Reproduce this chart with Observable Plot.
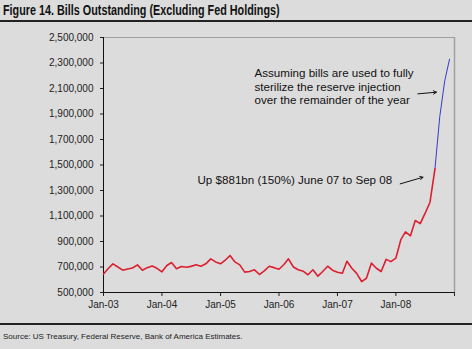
<!DOCTYPE html>
<html>
<head>
<meta charset="utf-8">
<script src="https://cdn.jsdelivr.net/npm/d3@7"></script>
<script src="https://cdn.jsdelivr.net/npm/@observablehq/plot@0.6"></script>
<style>
  html, body { margin: 0; padding: 0; background: #dcdcdc; }
  #wrap { width: 472px; height: 349px; background: #dcdcdc; position: relative; overflow: hidden; }
  #title { position: absolute; left: 3px; top: 1px; font-family: "Liberation Sans", Arial, sans-serif; font-weight: bold; font-size: 15px; color: #111; white-space: nowrap; transform: scaleX(0.72); transform-origin: 0 50%; }
  #rule1 { position: absolute; left: 0; width: 472px; top: 20px; height: 1.5px; background: #222; }
  #rule2 { position: absolute; left: 0; width: 472px; top: 323px; height: 1.5px; background: #222; }
  #chart { position: absolute; left: 0; top: 22px; }
  #source { position: absolute; left: 3px; top: 332px; font-family: "Liberation Sans", Arial, sans-serif; font-size: 8px; color: #222; white-space: nowrap; }
</style>
</head>
<body>
<div id="wrap">
  <div id="title">Figure 14. Bills Outstanding (Excluding Fed Holdings)</div>
  <div id="rule1"></div>
  <div id="chart"></div>
  <div id="rule2"></div>
  <div id="source">Source: US Treasury, Federal Reserve, Bank of America Estimates.</div>
</div>
<script>
// Monthly bills outstanding ($mn), Jan-03 .. Dec-08
const startMonth = "2003-01-01";
const actualValues = [
  645, 690, 725, 700, 675, 685, 692, 717, 675, 695, 708, 690,   // 2003
  662, 712, 735, 686, 704, 698, 705, 717, 706, 725, 764, 740,   // 2004
  725, 755, 790, 740, 717, 660, 665, 678, 641, 670, 706, 695,   // 2005
  682, 720, 764, 700, 678, 667, 639, 678, 628, 665, 706, 675,   // 2006
  659, 651, 745, 690, 650, 586, 612, 730, 690, 665, 760, 742,   // 2007
  770, 915, 975, 945, 1065, 1040, 1120, 1208, 1470              // 2008 Jan-Sep
];
const projectedValues = [1470, 1880, 2160, 2330];               // Sep-08 .. Dec-08
const projectedStartIndex = 68;

const yTicks = [500000, 700000, 900000, 1100000, 1300000, 1500000, 1700000, 1900000, 2100000, 2300000, 2500000];
const xTickYears = ["2003", "2004", "2005", "2006", "2007", "2008", "2009"];

const note1 = "Assuming bills are used to fully\nsterilize the reserve injection\nover the remainder of the year";
const note2 = "Up $881bn (150%) June 07 to Sep 08";

const t0 = new Date(startMonth);
const actual = actualValues.map((v, i) => ({date: d3.utcMonth.offset(t0, i), value: v * 1000}));
const projected = projectedValues.map((v, i) => ({date: d3.utcMonth.offset(t0, projectedStartIndex + i), value: v * 1000}));
const xTicks = xTickYears.map(y => new Date(y + "-01-01"));

const xMin = xTicks[0], xMax = xTicks[xTicks.length - 1];
const fmtComma = d3.format(",");
const fmtDate = d => d.getUTCFullYear() === 2009 ? "" : d3.utcFormat("Jan-%y")(d);

const chart = Plot.plot({
  width: 472,
  height: 300,
  marginLeft: 103,
  marginRight: 18,
  marginTop: 15,
  marginBottom: 30,
  style: {background: "transparent", fontFamily: "'Liberation Sans', Arial, sans-serif", fontSize: "10px", color: "#222"},
  x: {type: "utc", domain: [xMin, xMax], ticks: xTicks, tickFormat: fmtDate, tickSize: 4, tickPadding: 4, label: null},
  y: {domain: [500000, 2500000], ticks: yTicks, tickFormat: fmtComma, tickSize: 3, tickPadding: 7, label: null},
  marks: [
    Plot.ruleY([2500000], {stroke: "#a0a0a0", strokeWidth: 1}),
    Plot.ruleX([xMax], {stroke: "#a0a0a0", strokeWidth: 1.5}),
    Plot.ruleX([xMin], {stroke: "#111", strokeWidth: 1}),
    Plot.ruleY([500000], {stroke: "#111", strokeWidth: 1}),
    Plot.line(projected, {x: "date", y: "value", stroke: "#3838d0", strokeWidth: 1}),
    Plot.line(actual, {x: "date", y: "value", stroke: "#dc1f2e", strokeWidth: 1.6}),
    Plot.text([note1], {x: new Date("2005-08-01"), y: 2116000, text: d => d, textAnchor: "start", lineAnchor: "middle", lineHeight: 1.15, fontSize: 11.6, fill: "#111"}),
    Plot.text([note2], {x: new Date("2004-08-10"), y: 1378000, text: d => d, textAnchor: "start", lineAnchor: "middle", fontSize: 11.6, fill: "#111"}),
    Plot.arrow([0], {x1: new Date("2008-05-17"), y1: 2058000, x2: new Date("2008-09-10"), y2: 2071000, stroke: "#111", strokeWidth: 1, headLength: 5}),
    Plot.arrow([0], {x1: new Date("2008-01-28"), y1: 1352000, x2: new Date("2008-06-18"), y2: 1404000, stroke: "#111", strokeWidth: 1, headLength: 5})
  ]
});
document.getElementById("chart").appendChild(chart);
</script>
</body>
</html>
